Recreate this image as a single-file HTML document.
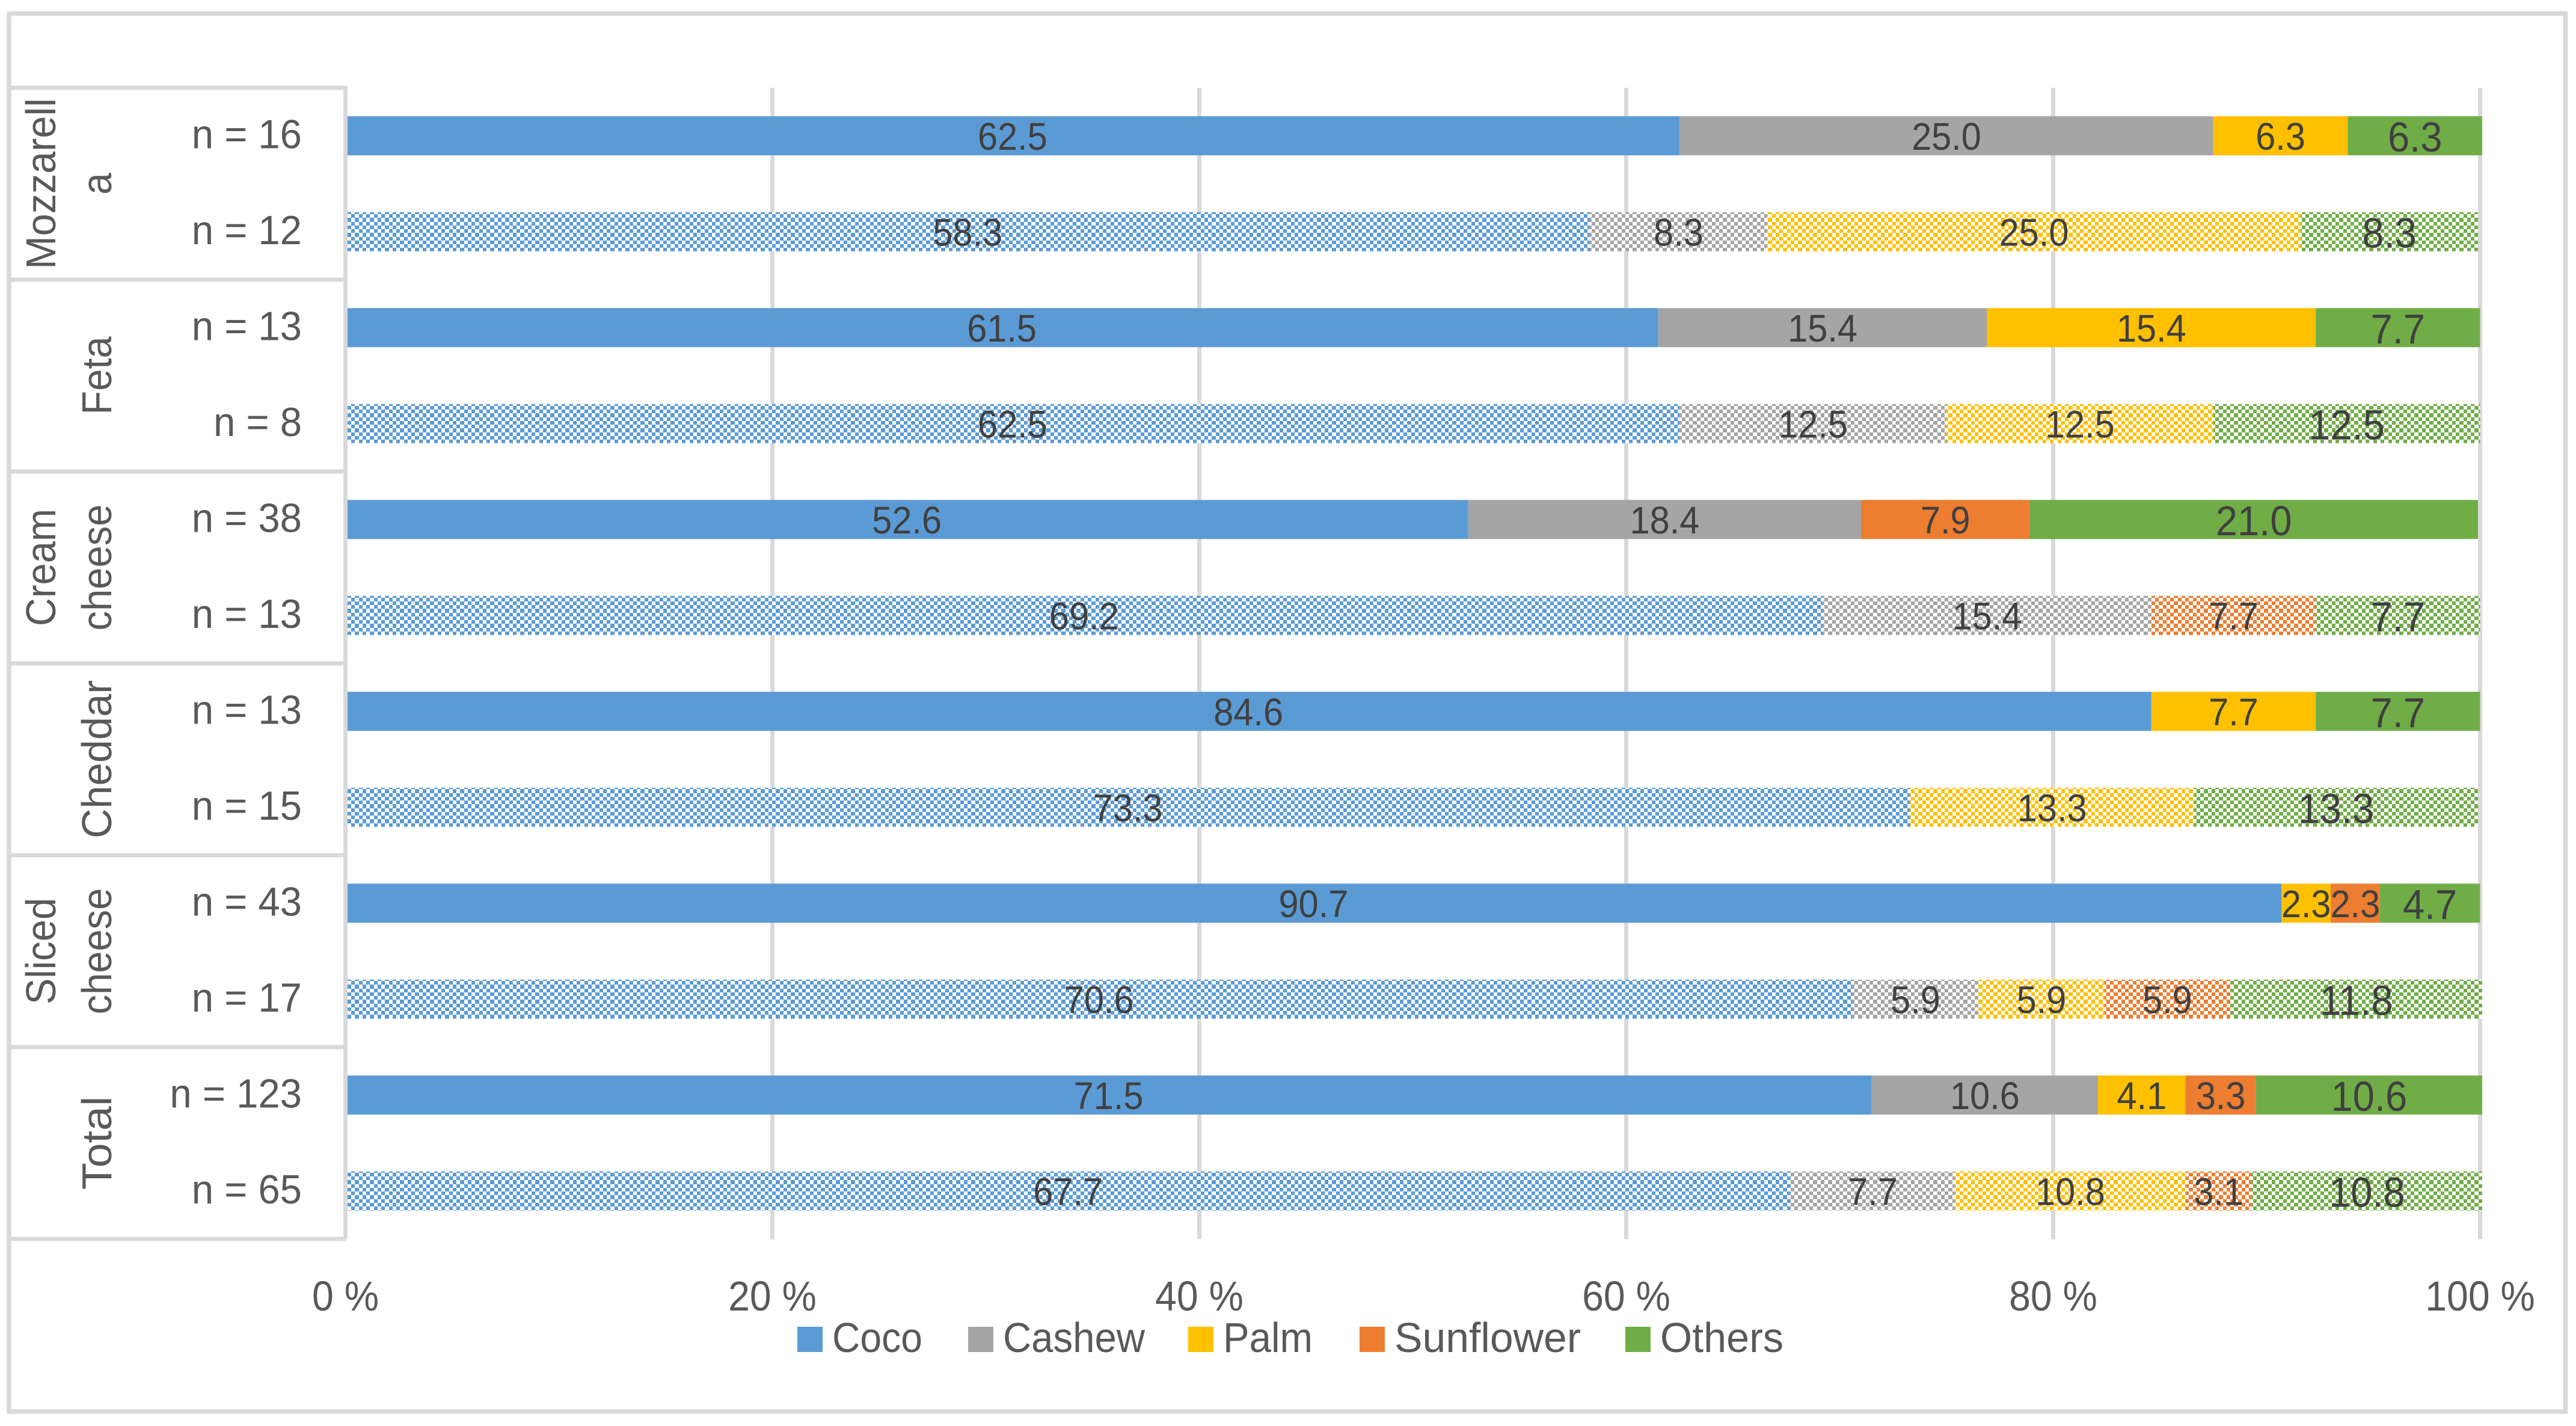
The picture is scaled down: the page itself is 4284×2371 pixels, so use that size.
<!DOCTYPE html>
<html lang="en">
<head>
<meta charset="utf-8">
<title>Oil type by cheese category</title>
<style>
  html, body { margin: 0; padding: 0; background: #ffffff; }
  body { width: 4284px; height: 2371px; overflow: hidden; }
  svg { display: block; }
  text { font-family: "Liberation Sans", sans-serif; }
</style>
</head>
<body>
<svg id="chart" xmlns="http://www.w3.org/2000/svg" width="4284" height="2371" viewBox="0 0 4284 2371">
  <defs id="defs"></defs>
  <rect x="0" y="0" width="4284" height="2371" fill="#ffffff"></rect>
  <rect x="15" y="22.5" width="4251.5" height="2324.5" fill="none" stroke="#d9d9d9" stroke-width="7.5"></rect>
</svg>
<script>
const categories = ['Mozzarella', 'Feta', 'Cream cheese', 'Cheddar', 'Sliced cheese', 'Total'];
const categoryLines = [['Mozzarell', 'a'], ['Feta'], ['Cream', 'cheese'], ['Cheddar'], ['Sliced', 'cheese'], ['Total']];
const sampleLabels = ['n = 16', 'n = 12', 'n = 13', 'n = 8', 'n = 38', 'n = 13', 'n = 13', 'n = 15', 'n = 43', 'n = 17', 'n = 123', 'n = 65'];
const patternedRows = [false, true, false, true, false, true, false, true, false, true, false, true];
const seriesNames = ['Coco', 'Cashew', 'Palm', 'Sunflower', 'Others'];
const cocoValues = [62.5, 58.3, 61.5, 62.5, 52.6, 69.2, 84.6, 73.3, 90.7, 70.6, 71.5, 67.7];
const cashewValues = [25.0, 8.3, 15.4, 12.5, 18.4, 15.4, 0, 0, 0, 5.9, 10.6, 7.7];
const palmValues = [6.3, 25.0, 15.4, 12.5, 0, 0, 7.7, 13.3, 2.3, 5.9, 4.1, 10.8];
const sunflowerValues = [0, 0, 0, 0, 7.9, 7.7, 0, 0, 2.3, 5.9, 3.3, 3.1];
const othersValues = [6.3, 8.3, 7.7, 12.5, 21.0, 7.7, 7.7, 13.3, 4.7, 11.8, 10.6, 10.8];
const tickValues = [0, 20, 40, 60, 80, 100];
const tickLabels = ['0 %', '20 %', '40 %', '60 %', '80 %', '100 %'];

const seriesValues = [cocoValues, cashewValues, palmValues, sunflowerValues, othersValues];
const seriesColors = ['#5b9bd5', '#a5a5a5', '#ffc000', '#ed7d31', '#70ad47'];
const seriesSlugs = ['coco', 'cashew', 'palm', 'sunflower', 'others'];

const NS = 'http://www.w3.org/2000/svg';
const svg = document.getElementById('chart');
const defs = document.getElementById('defs');

const plotTop = 146;
const rowHeight = 159.5;
const barHeight = 65;
const axisLeft = 574.5;
const axisRight = 4124.5;
const plotBottom = plotTop + rowHeight * sampleLabels.length;

function xScale(value) {
  return axisLeft + (axisRight - axisLeft) * value / 100;
}
function rowCenter(index) {
  return plotTop + rowHeight * (index + 0.5);
}
function make(tag, parent) {
  const el = document.createElementNS(NS, tag);
  (parent || svg).appendChild(el);
  return el;
}
function setAttrs(el, attrs) {
  Object.keys(attrs).forEach(function (key) { el.setAttribute(key, attrs[key]); });
}
function setLabel(el, content, x, y, size, fill, anchor, squeeze, targetLength) {
  setAttrs(el, { x: x, y: y, fill: fill, 'font-size': size, 'text-anchor': anchor });
  el.textContent = content;
  const natural = el.getComputedTextLength();
  const length = targetLength || natural * squeeze;
  el.setAttribute('textLength', length.toFixed(1));
  el.setAttribute('lengthAdjust', 'spacingAndGlyphs');
}
function categorySqueeze(lineText) {
  if (lineText === 'Total') return 1.05;
  if (lineText === 'Cheddar') return 0.98;
  if (lineText === 'Mozzarell') return 0.95;
  return 0.93;
}

/* checker fill patterns for the hatched rows */
const cellEdges = [0, 6, 13, 19, 25];
seriesColors.forEach(function (color, s) {
  const pattern = make('pattern', defs);
  setAttrs(pattern, { id: 'check-' + s, patternUnits: 'userSpaceOnUse', width: 25, height: 25, patternTransform: 'translate(9 6)' });
  const paper = make('rect', pattern);
  setAttrs(paper, { x: 0, y: 0, width: 25, height: 25, fill: '#ffffff', 'shape-rendering': 'crispEdges' });
  for (let r = 0; r < 4; r++) {
    for (let c = 0; c < 4; c++) {
      if ((r + c) % 2 === 0) {
        const cell = make('rect', pattern);
        setAttrs(cell, { x: cellEdges[c], y: cellEdges[r], width: cellEdges[c + 1] - cellEdges[c], height: cellEdges[r + 1] - cellEdges[r], fill: color, 'shape-rendering': 'crispEdges' });
      }
    }
  }
});

/* vertical gridlines */
tickValues.forEach(function (tick, i) {
  if (tick === 0) return;
  const line = make('line');
  
  
  setAttrs(line, { x1: xScale(tick), x2: xScale(tick), y1: plotTop, y2: plotBottom + 0.5, stroke: '#d9d9d9', 'stroke-width': 7 });
});

/* stacked bars */
sampleLabels.forEach(function (label, row) {
  let cumulative = 0;
  seriesValues.forEach(function (values, s) {
    const value = values[row];
    if (!value) return;
    const bar = make('rect');
    
    
    setAttrs(bar, {
      x: xScale(cumulative),
      y: rowCenter(row) - barHeight / 2,
      width: xScale(cumulative + value) - xScale(cumulative),
      height: barHeight,
      fill: patternedRows[row] ? 'url(#check-' + s + ')' : seriesColors[s]
    });
    cumulative += value;
  });
});

/* data labels */
sampleLabels.forEach(function (label, row) {
  let cumulative = 0;
  seriesValues.forEach(function (values, s) {
    const value = values[row];
    if (!value) return;
    const isOthers = s === 4;
    const text = make('text');
    
    
    setLabel(text, value.toFixed(1), xScale(cumulative + value / 2), rowCenter(row) + (isOthers ? 26 : 23), isOthers ? 70 : 64, '#404040', 'middle', 0.93);
    cumulative += value;
  });
});

/* category table */
const tableLeft = 11;
const tableRight = 574.5;
categories.forEach(function (name, g) {
  const edge = make('line');
  
  
  const y = plotTop + rowHeight * 2 * g;
  setAttrs(edge, { x1: tableLeft, x2: tableRight + 0.5, y1: y, y2: y, stroke: '#d9d9d9', 'stroke-width': 7 });

  const lines = categoryLines[g];
  const cy = plotTop + rowHeight * (2 * g + 1);
  lines.forEach(function (lineText, l) {
    const baselineX = lines.length === 2 && l === 0 ? 92 : 185;
    const text = make('text');
    
    
    setLabel(text, lineText, 0, 0, 70, '#595959', 'middle', categorySqueeze(lineText));
    text.setAttribute('transform', 'translate(' + baselineX + ' ' + cy + ') rotate(-90)');
  });
});
const tableBottomLine = make('line');


setAttrs(tableBottomLine, { x1: tableLeft, x2: tableRight + 0.5, y1: plotBottom, y2: plotBottom, stroke: '#d9d9d9', 'stroke-width': 7 });
const categoryAxisLine = make('line');


setAttrs(categoryAxisLine, { x1: axisLeft, x2: axisLeft, y1: plotTop - 3.5, y2: plotBottom + 0.5, stroke: '#d9d9d9', 'stroke-width': 7 });

/* sample size labels */
sampleLabels.forEach(function (label, row) {
  const text = make('text');
  
  
  setLabel(text, label, 502, rowCenter(row) + 20.5, 68, '#595959', 'end', 0.96);
});

/* x axis tick labels */
tickValues.forEach(function (tick, i) {
  const text = make('text');
  
  
  setLabel(text, tickLabels[i], xScale(tick), 2179, 70, '#595959', 'middle', 0.92);
});

/* legend */
const legendSwatchX = [1326, 1610, 1976, 2261, 2703];
const legendTextWidth = [150, 236, 149, 310, 205];
seriesNames.forEach(function (name, s) {
  const group = make('g');
  
  
  const swatch = make('rect', group);
  
  
  setAttrs(swatch, { x: legendSwatchX[s], y: 2206, width: 42, height: 42, fill: seriesColors[s] });
  const text = make('text', group);
  
  
  setLabel(text, name, legendSwatchX[s] + 58, 2248, 70, '#595959', 'start', 1, legendTextWidth[s]);
});
</script>
</body>
</html>
